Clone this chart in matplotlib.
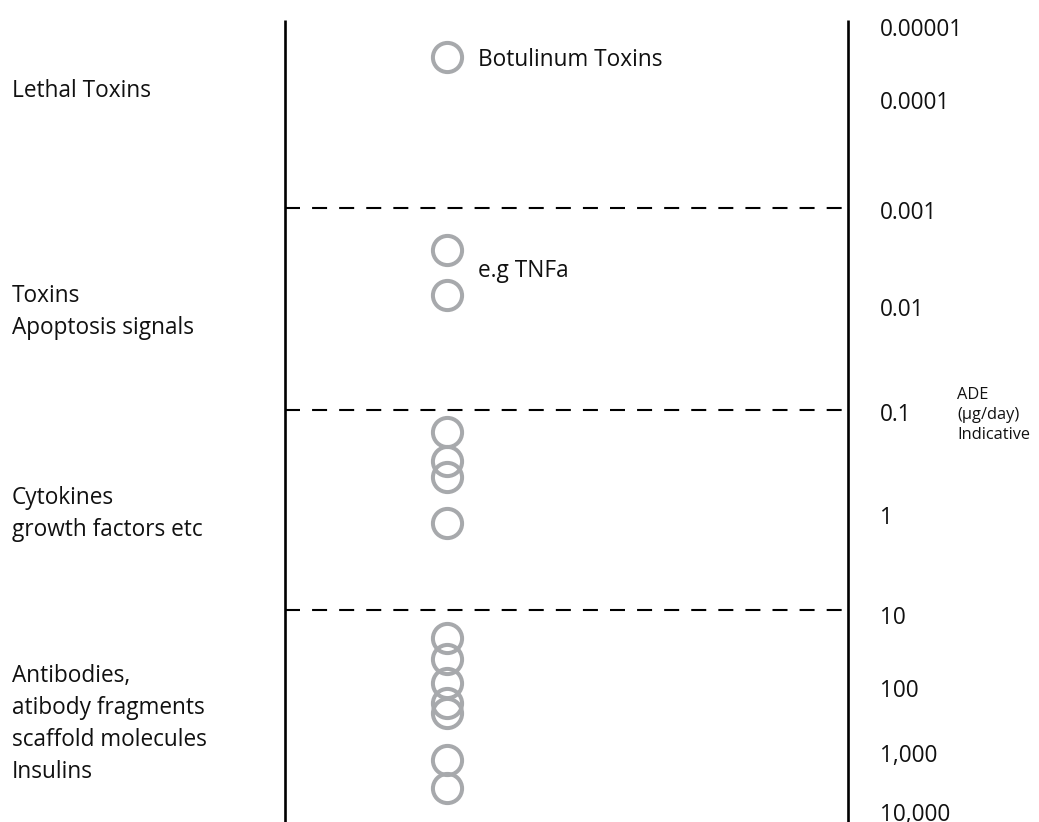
import matplotlib
matplotlib.use("Agg")
import matplotlib.pyplot as plt

# ---- data (positions on the vertical ADE scale, in figure-pixel units from top) ----
scale_labels = ["0.00001", "0.0001", "0.001", "0.01", "0.1", "1", "10", "100", "1,000", "10,000"]
scale_pos = [27, 100, 210, 307, 412, 515, 615, 688, 753, 812]

band_bounds = [208, 410, 610]

group_names = ["Lethal Toxins",
               "Toxins\nApoptosis signals",
               "Cytokines\ngrowth factors etc",
               "Antibodies,\natibody fragments\nscaffold molecules\nInsulins"]
group_pos = [88, 309, 511, 721]

molecule_pos = [57, 250, 295, 432, 461, 477, 523, 638, 659, 683, 703, 713, 760, 788]

annotations = ["Botulinum Toxins", "e.g TNFa"]
annotation_pos = [57, 268]

unit_text = "ADE\n(µg/day)\nIndicative"

# ---- figure ----
W, H = 1039, 822
fig = plt.figure(figsize=(W / 100, H / 100), dpi=100)
ax = fig.add_axes([0, 0, 1, 1])
ax.set_xlim(0, W)
ax.set_ylim(H, 0)
ax.axis("off")

FONT = ["Open Sans", "DejaVu Sans"]
FS = 16.3
DY = 3  # optical centring offset for text

left_x, right_x = 285, 848
circle_x = 447

# vertical axis lines
ax.plot([left_x, left_x], [20, H], color="black", lw=1.9, solid_capstyle="butt")
ax.plot([right_x, right_x], [20, H], color="black", lw=1.9, solid_capstyle="butt")

# dashed band separators
for yb in band_bounds:
    ax.plot([left_x, right_x], [yb, yb], color="black", lw=1.5,
            linestyle=(0, (7.2, 5.8)), dash_capstyle="butt")

# molecules as open circles
ax.plot([circle_x] * len(molecule_pos), molecule_pos, linestyle="none",
        marker="o", markersize=21, markerfacecolor="none",
        markeredgecolor="#a7a9ac", markeredgewidth=2.9)

# annotations next to circles
for t, y in zip(annotations, annotation_pos):
    ax.text(478, y + DY, t, ha="left", va="center", fontsize=FS, family=FONT, color="#111111")

# group labels on the left
for t, y in zip(group_names, group_pos):
    ax.text(12, y + DY, t, ha="left", va="center", fontsize=FS, family=FONT,
            color="#111111", linespacing=1.46)

# scale labels on the right
for t, y in zip(scale_labels, scale_pos):
    ax.text(880, y + DY, t, ha="left", va="center", fontsize=FS, family=FONT, color="#111111")

ax.text(957, 415, unit_text, ha="left", va="center", fontsize=11.8, family=FONT,
        color="#111111", linespacing=1.33)

fig.savefig("out.png", dpi=100, facecolor="white")
